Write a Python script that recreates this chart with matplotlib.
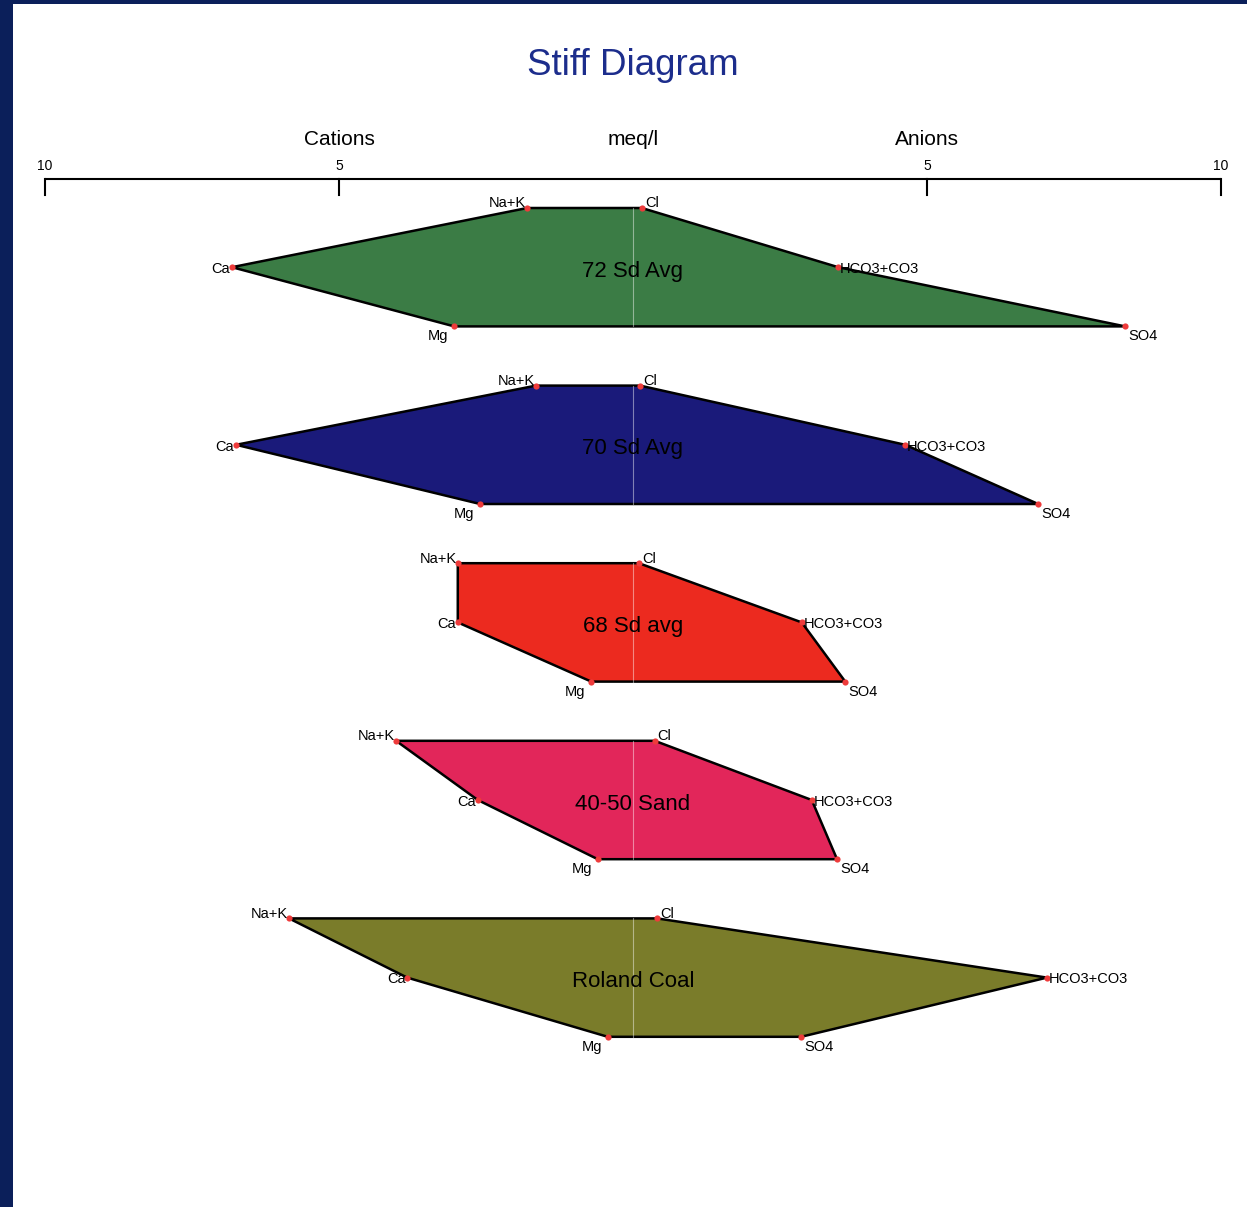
import numpy as np
import matplotlib.pyplot as plt
from matplotlib.patches import Polygon, Rectangle

plt.rcParams['font.family'] = ['Liberation Sans', 'DejaVu Sans']

# samples and their ion concentrations (meq/l)
samples = ['72 Sd Avg', '70 Sd Avg', '68 Sd avg', '40-50 Sand', 'Roland Coal']
na_k = [1.80, 1.65, 2.98, 4.03, 5.85]
ca = [6.82, 6.75, 2.98, 2.64, 3.84]
mg = [3.04, 2.60, 0.71, 0.60, 0.43]
cl = [0.15, 0.12, 0.10, 0.37, 0.41]
hco3 = [3.49, 4.63, 2.87, 3.04, 7.04]
so4 = [8.37, 6.89, 3.61, 3.47, 2.86]
colors = ['#3b7c45', '#1a1a7a', '#ec2a1f', '#e2265a', '#7a7c2a']

scale_ticks = [-10, -5, 5, 10]

fig = plt.figure(figsize=(12.47, 12.07), dpi=100, facecolor='#0b1f5a')
ax = fig.add_axes([0, 0, 1, 1])
ax.set_facecolor('none')
ax.set_xlim(-633 / 58.8, (1247 - 633) / 58.8)
ax.set_ylim(-(1207 - 208) / 59.2, 208 / 59.2)
ax.axis('off')
# white slide area
ax.add_patch(Rectangle((13 / 1247, 0), 1, 1203 / 1207, transform=fig.transFigure,
                       facecolor='white', edgecolor='none', zorder=0))

# scale bar
ybar = 0.49
ax.plot([-10, 10], [ybar, ybar], color='black', lw=1.5, solid_capstyle='butt', zorder=2)
for v in scale_ticks:
    ax.plot([v, v], [ybar, ybar - 0.27], color='black', lw=1.5, zorder=2)
    ax.text(v, ybar + 0.1, str(abs(v)), ha='center', va='bottom', fontsize=10)

ax.text(0, 2.4, 'Stiff Diagram', ha='center', va='center', fontsize=26.5, color='#1c2d8c')
ax.text(-5, 1.16, 'Cations', ha='center', va='center', fontsize=15)
ax.text(0, 1.16, 'meq/l', ha='center', va='center', fontsize=15)
ax.text(5, 1.16, 'Anions', ha='center', va='center', fontsize=15)

fs = 10.5
for k, name in enumerate(samples):
    y0 = -3.0 * k
    ys = [y0, y0 - 1.0, y0 - 2.0]
    pts = [(-na_k[k], ys[0]), (cl[k], ys[0]), (hco3[k], ys[1]),
           (so4[k], ys[2]), (-mg[k], ys[2]), (-ca[k], ys[1])]
    ax.add_patch(Polygon(pts, closed=True, facecolor=colors[k], edgecolor='black',
                         lw=1.8, zorder=2))
    ax.plot([0, 0], [ys[0], ys[2]], color='white', lw=0.8, alpha=0.45, zorder=3)
    xs, yy = zip(*pts)
    ax.scatter(xs, yy, s=20, color='#ee3b3b', zorder=4, linewidths=0)
    ax.text(0, ys[1] - 0.07, name, ha='center', va='center', fontsize=16, zorder=5)

    ax.text(-na_k[k] - 0.02, ys[0] - 0.04, 'Na+K', ha='right', va='bottom', fontsize=fs, zorder=5)
    ax.text(cl[k] + 0.05, ys[0] - 0.04, 'Cl', ha='left', va='bottom', fontsize=fs, zorder=5)
    ax.text(-ca[k] - 0.03, ys[1] - 0.03, 'Ca', ha='right', va='center', fontsize=fs, zorder=5)
    ax.text(hco3[k] + 0.03, ys[1] - 0.03, 'HCO3+CO3', ha='left', va='center', fontsize=fs, zorder=5)
    ax.text(-mg[k] - 0.1, ys[2] - 0.05, 'Mg', ha='right', va='top', fontsize=fs, zorder=5)
    ax.text(so4[k] + 0.05, ys[2] - 0.05, 'SO4', ha='left', va='top', fontsize=fs, zorder=5)

fig.savefig('out.png', dpi=100, facecolor=fig.get_facecolor())
